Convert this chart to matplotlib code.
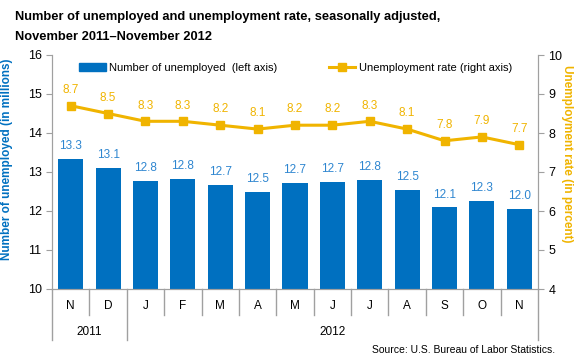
import matplotlib.pyplot as plt
from matplotlib.lines import Line2D
from matplotlib.patches import Patch
import matplotlib.transforms as mtransforms

months = ["N", "D", "J", "F", "M", "A", "M", "J", "J", "A", "S", "O", "N"]
years = ["2011", "2012"]
year_spans = [(0, 1), (2, 12)]
unemployed = [13.33, 13.10, 12.76, 12.81, 12.67, 12.50, 12.72, 12.75, 12.79, 12.54, 12.09, 12.26, 12.04]
unemployed_labels = ["13.3", "13.1", "12.8", "12.8", "12.7", "12.5", "12.7", "12.7", "12.8", "12.5", "12.1", "12.3", "12.0"]
rate = [8.7, 8.5, 8.3, 8.3, 8.2, 8.1, 8.2, 8.2, 8.3, 8.1, 7.8, 7.9, 7.7]

BLUE = "#0070C0"
BLUE_TXT = "#2E86D0"
GOLD = "#F0B400"
GRAY = "#A0A0A0"

plt.rcParams["font.family"] = "Liberation Sans"

fig = plt.figure(figsize=(5.8, 3.6), dpi=100)
ax = fig.add_axes([52 / 580, 1 - 289 / 360, 486 / 580, 234 / 360])
ax2 = ax.twinx()

x = list(range(len(months)))
ax.bar(x, unemployed, width=0.67, color=BLUE, zorder=2)
for xi, v, lab in zip(x, unemployed, unemployed_labels):
    ax.annotate(lab, (xi, v), xytext=(0, 5), textcoords="offset points",
                ha="center", va="bottom", fontsize=8.5, color=BLUE_TXT)

ax2.plot(x, rate, color=GOLD, lw=2.2, marker="s", ms=6, zorder=3)
for xi, v in zip(x, rate):
    ax2.annotate(f"{v:.1f}", (xi, v), xytext=(0, 7), textcoords="offset points",
                 ha="center", va="bottom", fontsize=8.5, color=GOLD)

ax.set_xlim(-0.5, len(months) - 0.5)
ax.set_ylim(10, 16)
ax2.set_ylim(4, 10)
ax.set_zorder(ax2.get_zorder() - 1)
ax.patch.set_visible(False)

for a in (ax, ax2):
    for s in a.spines.values():
        s.set_color(GRAY)
    a.spines["top"].set_visible(False)
ax.set_xticks([])
ax.tick_params(axis="y", colors="black", labelsize=9, length=4, color=GRAY)
ax2.tick_params(axis="y", colors="black", labelsize=9, length=4, color=GRAY)
ax.set_yticks(range(10, 17))
ax2.set_yticks(range(4, 11))

ax.set_ylabel("Number of unemployed (in millions)", color=BLUE, fontsize=8.5,
              fontweight="bold")
ax.yaxis.set_label_coords(-39 / 486, 0.555)
ax2.set_ylabel("Unemployment rate (in percent)", color=GOLD, fontsize=8.5,
               fontweight="bold", rotation=270, va="center")
ax2.yaxis.set_label_coords(1 + 29 / 486, 0.58)

# category axis: month labels, year labels and separators
trans = mtransforms.blended_transform_factory(ax.transData, fig.transFigure)
y_axis = 1 - 289 / 360
y_month = 1 - 315 / 360
y_year = 1 - 340 / 360
year_edges = {s[0] - 0.5 for s in year_spans} | {year_spans[-1][1] + 0.5}
for b in [i - 0.5 for i in range(len(months) + 1)]:
    y_end = y_year if b in year_edges else y_month
    ax.plot([b, b], [y_axis, y_end], transform=trans, color=GRAY, lw=1, clip_on=False)
for xi, m in zip(x, months):
    fig.text(xi, 1 - 306 / 360, m, transform=trans, ha="center", va="center", fontsize=8.5)
for (a, b), yr in zip(year_spans, years):
    fig.text((a + b) / 2, 1 - 332 / 360, yr, transform=trans, ha="center", va="center", fontsize=8.5)

handles = [Patch(color=BLUE), Line2D([], [], color=GOLD, lw=2.2, marker="s", ms=6)]
ax.legend(handles, ["Number of unemployed  (left axis)", "Unemployment rate (right axis)"],
          ncol=2, loc="upper left", bbox_to_anchor=(0.04, 1.0), frameon=False,
          fontsize=8, columnspacing=4.6, handlelength=2.4, handletextpad=0.3,
          borderaxespad=0.3)

fig.text(15 / 580, 1 - 17 / 360, "Number of unemployed and unemployment rate, seasonally adjusted,",
         fontsize=9.3, fontweight="bold", va="center")
fig.text(15 / 580, 1 - 37 / 360, "November 2011\u2013November 2012",
         fontsize=9.3, fontweight="bold", va="center")
fig.text(555 / 580, 1 - 350 / 360, "Source: U.S. Bureau of Labor Statistics.",
         fontsize=7.5, ha="right", va="center")

fig.savefig("out.png", dpi=100)
